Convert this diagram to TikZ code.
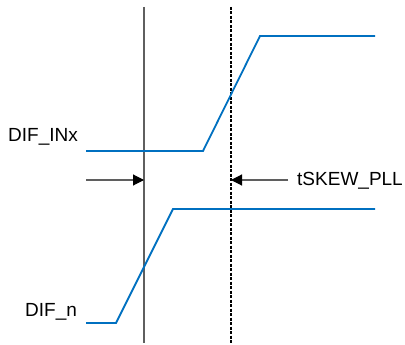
\documentclass[tikz,border=0pt]{standalone}
\usepackage{fontspec}
\setmainfont{Liberation Sans}
\usetikzlibrary{arrows.meta}
\definecolor{sigblue}{RGB}{0,112,192}
\definecolor{linegray}{RGB}{95,95,95}
\tikzset{
  signal/.style={draw=sigblue, line width=1.8pt, line join=miter},
  marker/.style={draw=linegray, line width=1.2pt},
  dashmark/.style={draw=black, line width=1.2pt, dash pattern=on 3pt off 1.5pt},
  skewarrow/.style={draw=linegray, line width=1.1pt, -{Triangle[length=11pt,width=11pt,color=black]}},
  lbl/.style={font=\fontsize{19}{21}\selectfont, inner sep=0pt}
}
\begin{document}
\begin{tikzpicture}[x=1pt,y=-1pt]
\useasboundingbox (0,0) rectangle (405,345);
% vertical markers
\coordinate (s1) at (144,7);
\coordinate (s2) at (144,343);
\coordinate (d1) at (231,7);
\coordinate (d2) at (231,343);
\draw[marker] (s1) -- (s2);
\draw[dashmark] (d1) -- (d2);
% top waveform
\coordinate (a0) at (86,151);
\coordinate (a1) at (203,151);
\coordinate (a2) at (260,36);
\coordinate (a3) at (375,36);
\draw[signal] (a0) -- (a1) -- (a2) -- (a3);
% bottom waveform
\coordinate (b0) at (86,323);
\coordinate (b1) at (116,323);
\coordinate (b2) at (173,209);
\coordinate (b3) at (375,209);
\draw[signal] (b0) -- (b1) -- (b2) -- (b3);
% arrows
\coordinate (la) at (86,180);
\coordinate (lt) at (144,180);
\coordinate (ra) at (288,180);
\coordinate (rt) at (231,180);
\draw[skewarrow] (la) -- (lt);
\draw[skewarrow] (ra) -- (rt);
% labels
\node[lbl, anchor=base west] (inx) at (8,142) {DIF\_INx};
\node[lbl, anchor=base west] (dn) at (25,316) {DIF\_n};
\node[lbl, anchor=base west] (tsk) at (297,185.5) {tSKEW\_PLL};
\end{tikzpicture}
\end{document}
